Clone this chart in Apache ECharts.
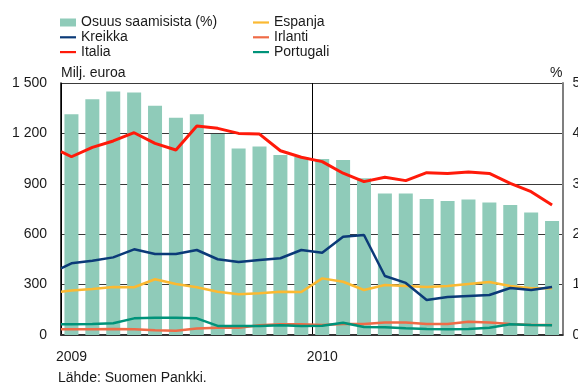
<!DOCTYPE html>
<html>
<head>
<meta charset="utf-8">
<script src="https://cdn.jsdelivr.net/npm/echarts@6/dist/echarts.min.js"></script>
<style>
  html, body { margin: 0; padding: 0; background: #fff; }
  #chart { width: 578px; height: 385px; }
</style>
</head>
<body>
<div id="chart"></div>
<script>
// Monthly observations, January 2009 – December 2010
const months = [
  '2009-01','2009-02','2009-03','2009-04','2009-05','2009-06',
  '2009-07','2009-08','2009-09','2009-10','2009-11','2009-12',
  '2010-01','2010-02','2010-03','2010-04','2010-05','2010-06',
  '2010-07','2010-08','2010-09','2010-10','2010-11','2010-12'
];

// Share of total claims, % (right axis)
const osuus = [4.38, 4.68, 4.83, 4.81, 4.55, 4.31, 4.38, 3.99, 3.70, 3.74, 3.57, 3.53,
               3.49, 3.47, 3.11, 2.81, 2.81, 2.70, 2.66, 2.69, 2.63, 2.58, 2.43, 2.26];

// Claims by country, million euro (left axis); the opening value is the level at the start of 2009
const italiaStart = 1091;
const italia   = [1061, 1117, 1155, 1204, 1141, 1101, 1244, 1230, 1200, 1196, 1097, 1058,
                  1032,  963,  913,  939,  919,  966,  962,  970,  962,  903,  853,  774];
const kreikkaStart = 397;
const kreikka  = [427, 442, 462, 510, 482, 482, 506, 451, 435, 446, 457, 506,
                  490, 585, 595, 351, 310, 208, 226, 232, 238, 280, 268, 286];
const espanjaStart = 258;
const espanja  = [265, 274, 286, 284, 332, 304, 284, 258, 242, 248, 258, 256,
                  337, 317, 268, 298, 292, 286, 292, 304, 315, 292, 278, 278];
const irlantiStart = 34;
const irlanti  = [34, 34, 36, 34, 28, 26, 38, 43, 43, 58, 64, 64,
                  60, 65, 65, 75, 75, 65, 65, 79, 75, 65, 60, 60];
const portugaliStart = 64;
const portugali = [64, 66, 70, 99, 103, 102, 99, 54, 54, 54, 58, 54,
                   55, 73, 48, 46, 40, 36, 34, 36, 43, 64, 60, 58];

const yTicksLeft = { min: 0, max: 1500, step: 300 };
const yTicksRight = { min: 0, max: 5, step: 1 };

const FONT = '"Liberation Sans", Arial, Helvetica, sans-serif';
const TEXT = '#1a1a1a';

// Thin horizontal stroke used as the legend key of the line series
const LINE_KEY = 'path://M0,0 L16,0 L16,2.2 L0,2.2 Z';

// Lines run on a month-index axis: opening level at the left edge, then mid-month points
function monthSeries(start, values) {
  const pts = [[0, start]];
  values.forEach((v, i) => pts.push([i + 0.5, v]));
  return pts;
}

function thousands(v) {
  return String(v).replace(/\B(?=(\d{3})+(?!\d))/g, ' ');
}

function lineSeries(name, start, values, color, width) {
  return {
    name, type: 'line', xAxisIndex: 1, yAxisIndex: 0,
    data: monthSeries(start, values),
    symbol: 'none', smooth: false,
    lineStyle: { color, width },
    itemStyle: { color },
    z: 3
  };
}

const chart = echarts.init(document.getElementById('chart'), null, { renderer: 'canvas' });

const legendBase = {
  orient: 'vertical',
  top: 15.5,
  padding: 0,
  itemWidth: 16,
  itemHeight: 8,
  itemGap: 0.8,
  symbolKeepAspect: true,
  selectedMode: false,
  textStyle: { fontSize: 14, color: TEXT, fontFamily: FONT }
};

chart.setOption({
  animation: false,
  backgroundColor: '#fff',
  textStyle: { fontFamily: FONT },
  grid: { left: 61, right: 15.5, top: 83, bottom: 50, containLabel: false, outerBoundsMode: 'none' },
  legend: [
    Object.assign({}, legendBase, {
      left: 60,
      data: [
        { name: 'Osuus saamisista (%)', icon: 'rect' },
        { name: 'Kreikka', icon: LINE_KEY },
        { name: 'Italia', icon: LINE_KEY }
      ]
    }),
    Object.assign({}, legendBase, {
      left: 253,
      data: [
        { name: 'Espanja', icon: LINE_KEY },
        { name: 'Irlanti', icon: LINE_KEY },
        { name: 'Portugali', icon: LINE_KEY }
      ]
    })
  ],
  xAxis: [
    {
      type: 'category',
      data: months,
      boundaryGap: true,
      axisLine: { show: true, lineStyle: { color: '#333', width: 2 } },
      axisTick: { show: false },
      axisLabel: {
        interval: 0, margin: 15, fontSize: 14, color: TEXT, fontFamily: FONT,
        formatter: v => (v.endsWith('-01') ? v.slice(0, 4) : '')
      },
      splitLine: { show: false }
    },
    {
      type: 'value',
      min: 0, max: months.length, interval: 12,
      position: 'bottom',
      axisLine: { show: false },
      axisTick: { show: false },
      axisLabel: { show: false },
      splitLine: { show: true, lineStyle: { color: ['#000', '#000', '#7f7f7f'], width: 1 } }
    }
  ],
  yAxis: [
    {
      type: 'value', position: 'left',
      min: yTicksLeft.min, max: yTicksLeft.max, interval: yTicksLeft.step,
      name: 'Milj. euroa', nameLocation: 'end', nameGap: 3,
      nameTextStyle: { align: 'left', fontSize: 14, color: TEXT, fontFamily: FONT },
      axisLine: { show: true, lineStyle: { color: '#000', width: 1.5 } },
      axisTick: { show: false },
      axisLabel: { margin: 14, fontSize: 14, color: TEXT, fontFamily: FONT, formatter: thousands },
      splitLine: { show: true, lineStyle: { color: '#3a3a3a', width: 1 } }
    },
    {
      type: 'value', position: 'right',
      min: yTicksRight.min, max: yTicksRight.max, interval: yTicksRight.step,
      name: '%', nameLocation: 'end', nameGap: 3,
      nameTextStyle: { align: 'right', fontSize: 14, color: TEXT, fontFamily: FONT },
      axisLine: { show: true, lineStyle: { color: '#7f7f7f', width: 2 } },
      axisTick: { show: false },
      axisLabel: { margin: 10, fontSize: 14, color: TEXT, fontFamily: FONT },
      splitLine: { show: false }
    }
  ],
  series: [
    {
      name: 'Osuus saamisista (%)', type: 'bar', xAxisIndex: 0, yAxisIndex: 1,
      data: osuus, barWidth: 14,
      itemStyle: { color: '#8fcbb9' },
      z: 1
    },
    lineSeries('Irlanti', irlantiStart, irlanti, '#ef6b47', 2.5),
    lineSeries('Portugali', portugaliStart, portugali, '#00937a', 2.5),
    lineSeries('Espanja', espanjaStart, espanja, '#fbb932', 2.5),
    lineSeries('Kreikka', kreikkaStart, kreikka, '#0b3a78', 2.5),
    lineSeries('Italia', italiaStart, italia, '#ff1a0a', 3)
  ],
  graphic: [
    {
      type: 'text', left: 58, top: 371,
      style: { text: 'Lähde: Suomen Pankki.', fontSize: 14, fill: TEXT, fontFamily: FONT }
    }
  ]
});
</script>
</body>
</html>
